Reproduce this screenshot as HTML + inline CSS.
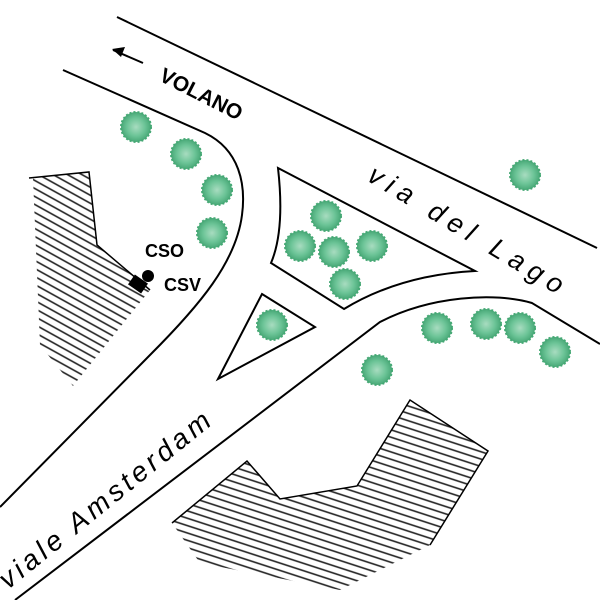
<!DOCTYPE html>
<html><head><meta charset="utf-8"><style>
html,body{margin:0;padding:0;background:#fff;width:600px;height:600px;overflow:hidden}
</style></head><body>
<svg width="600" height="600" viewBox="0 0 600 600" xmlns="http://www.w3.org/2000/svg">
<defs>
<pattern id="h1" width="8" height="7" patternUnits="userSpaceOnUse" patternTransform="rotate(29)">
<line x1="0" y1="1" x2="8" y2="1" stroke="#222" stroke-width="1.6"/>
</pattern>
<pattern id="h2" width="8" height="7" patternUnits="userSpaceOnUse" patternTransform="rotate(18)">
<line x1="0" y1="1" x2="8" y2="1" stroke="#222" stroke-width="1.6"/>
</pattern>
<radialGradient id="tg" cx="50%" cy="50%" r="50%">
<stop offset="0" stop-color="#a8dcc0"/><stop offset="0.6" stop-color="#6cc497"/><stop offset="1" stop-color="#48a877"/>
</radialGradient>
<g id="tree">
<circle r="15" fill="url(#tg)" stroke="#45a874" stroke-width="2" stroke-dasharray="2 2"/>
</g>
</defs>
<g fill="none" stroke="#000" stroke-width="2">
<path d="M117,17 L597,248"/>
<path d="M63,70 L205,133 C240,150 246,185 242,215 C236,262 200,305 150,355 L0,507"/>
<path d="M600,344 L532,303 C495,292 430,296 380,322 L15,600"/>
<path d="M278,168 L475,271 Q400,275 344,309 L271,263 Q285,230 278,168 Z"/>
<path d="M262,294 L315,327 L218,379 Z"/>
</g>
<path d="M33,178 L89,172 L97,245 L150,290 L73,386 L40,345 Z" fill="url(#h1)"/>
<path d="M29,178 L89,172 L97,245 L150,290" fill="none" stroke="#000" stroke-width="1.5"/>
<path d="M410,400 L488,451 L430,545 L340,590 L200,563 L172,523 L247,461 L280,499 L357,486 Z" fill="url(#h2)"/>
<path d="M172,523 L247,461 L280,499 L357,486 L410,400 L488,451 L430,545" fill="none" stroke="#000" stroke-width="1.5"/>
<circle cx="148" cy="276" r="6" fill="#000"/>
<rect x="130" y="278" width="16" height="12" fill="#000" transform="rotate(35 138 284)"/>
<line x1="113" y1="50" x2="143" y2="63" stroke="#000" stroke-width="2"/>
<path d="M112,49 L125,47 L121,57 Z" fill="#000"/>
<g>
<use href="#tree" x="136" y="127"/><use href="#tree" x="186" y="154"/><use href="#tree" x="217" y="190"/><use href="#tree" x="212" y="233"/>
<use href="#tree" x="326" y="216"/><use href="#tree" x="300" y="246"/><use href="#tree" x="334" y="252"/><use href="#tree" x="372" y="246"/>
<use href="#tree" x="345" y="284"/><use href="#tree" x="272" y="325"/><use href="#tree" x="525" y="175"/><use href="#tree" x="437" y="328"/>
<use href="#tree" x="486" y="324"/><use href="#tree" x="520" y="328"/><use href="#tree" x="555" y="352"/><use href="#tree" x="377" y="370"/>
</g>
<g font-family="Liberation Sans, sans-serif" fill="#000">
<text x="158" y="80" font-size="21" font-weight="bold" transform="rotate(27 158 80)">VOLANO</text>
<text x="145" y="257" font-size="18" font-weight="bold">CSO</text>
<text x="164" y="291" font-size="18" font-weight="bold">CSV</text>
<text x="366" y="180" font-size="27" font-style="italic" letter-spacing="7" transform="rotate(31 366 180)">via del Lago</text>
<text x="8" y="590" font-size="28" font-style="italic" letter-spacing="4" transform="rotate(-39 8 590)">viale Amsterdam</text>
</g>
</svg>
</body></html>
